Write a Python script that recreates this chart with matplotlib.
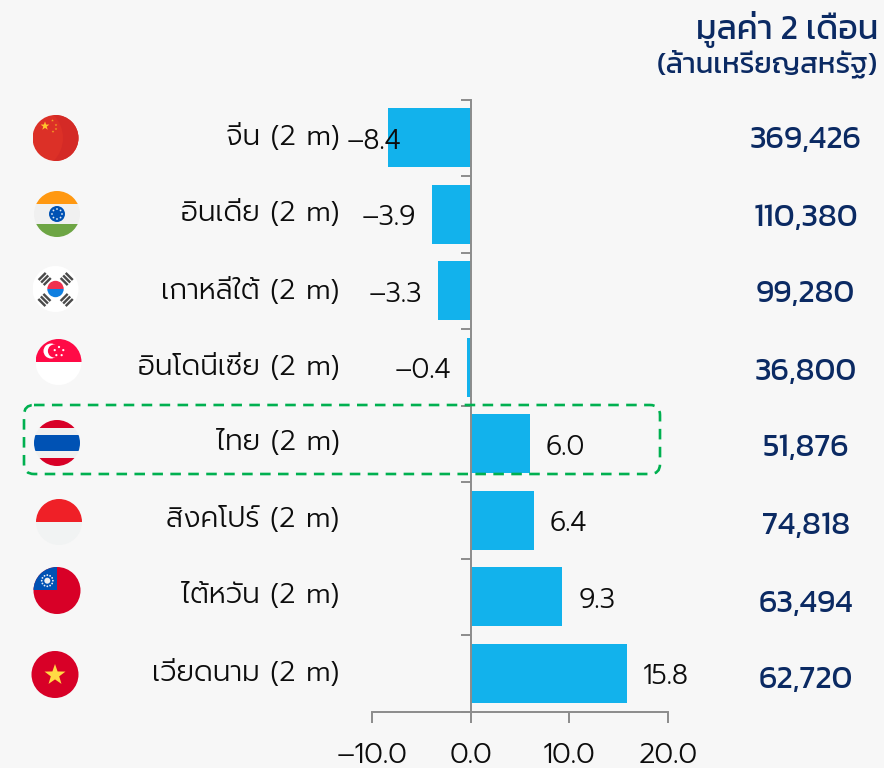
import numpy as np
import matplotlib
matplotlib.use('Agg')
import matplotlib.pyplot as plt
from matplotlib.patches import Circle, Rectangle, FancyBboxPatch, Polygon, Wedge

countries = ['จีน (2 m)', 'อินเดีย (2 m)', 'เกาหลีใต้ (2 m)', 'อินโดนีเซีย (2 m)',
             'ไทย (2 m)', 'สิงคโปร์ (2 m)', 'ไต้หวัน (2 m)', 'เวียดนาม (2 m)']
changes = [-8.4, -3.9, -3.3, -0.4, 6.0, 6.4, 9.3, 15.8]
values = ['369,426', '110,380', '99,280', '36,800', '51,876', '74,818', '63,494', '62,720']
xticks = [-10, 0, 10, 20]
xticklabels = ['\u201310.0', '0.0', '10.0', '20.0']

plt.rcParams['font.family'] = ['Prompt', 'Kanit', 'DejaVu Sans']
HEAD = ['Kanit', 'Prompt', 'DejaVu Sans']

W, H = 884, 768
BG = '#f7f7f7'
NAVY = '#0b2a63'
INK = '#0d0d0d'
GREY = '#8c8c8c'
fig = plt.figure(figsize=(W / 100, H / 100), dpi=100, facecolor=BG)

# main bar axes, pixel box
left, right, top, bottom = 372, 668, 99.5, 711.5
ax = fig.add_axes([left / W, 1 - bottom / H, (right - left) / W, (bottom - top) / H])
ax.patch.set_alpha(0)
pos = np.arange(len(changes))
ax.barh(pos, changes, height=0.77, color='#12b2ec', zorder=2)
ax.set_xlim(-10, 20)
ax.set_ylim(len(changes) - 0.5, -0.5)
for s in ['top', 'right']:
  ax.spines[s].set_visible(False)
ax.spines['left'].set_position(('data', 0))
for s in ['left', 'bottom']:
  ax.spines[s].set_color(GREY)
  ax.spines[s].set_linewidth(1.4)
  ax.spines[s].set_zorder(3)
ax.set_yticks(np.arange(len(changes) + 1) - 0.5)
ax.set_yticklabels([])
ax.tick_params(axis='y', length=7.5, width=1.4, color=GREY)
ax.set_xticks(xticks)
ax.set_xticklabels(xticklabels, fontsize=20.5, color=INK, weight=300)
ax.tick_params(axis='x', length=8, width=1.4, color=GREY, pad=14)

for i, v in enumerate(changes):
  txt = ('\u2013%.1f' % abs(v)) if v < 0 else '%.1f' % v
  if v < 0:
    ax.annotate(txt, (v, i), xytext=(-11.5 if v > -8 else 10, -2.5), textcoords='offset points',
                ha='right', va='center', fontsize=19.5, color=INK, weight=300, zorder=5)
  else:
    ax.annotate(txt, (v, i), xytext=(11.5, -2.5), textcoords='offset points',
                ha='left', va='center', fontsize=19.5, color=INK, weight=300, zorder=5)

# overlay in picture pixels for labels, flags and the highlight box
ov = fig.add_axes([0, 0, 1, 1])
ov.set_xlim(0, W)
ov.set_ylim(H, 0)
ov.axis('off')
ov.patch.set_alpha(0)

ov.text(878, 29, 'มูลค่า 2 เดือน', ha='right', va='center', fontsize=24.5, color=NAVY, family=HEAD)
ov.text(878, 64, '(ล้านเหรียญสหรัฐ)', ha='right', va='center', fontsize=21, color=NAVY, family=HEAD)

labelY = [137.5, 213.5, 290.5, 366.5, 442.5, 519.5, 595.5, 672.5]
valueX = [806, 806, 805.5, 806, 805.5, 806, 806, 806]
valueY = [141, 218, 295, 372, 449, 527, 604, 681]
for i in range(len(countries)):
  ov.text(339.5, labelY[i], countries[i], ha='right', va='center', fontsize=20.3, color=INK, weight=300)
  ov.text(valueX[i], valueY[i], values[i], ha='center', va='center', fontsize=23, color=NAVY, family=HEAD)

ov.add_patch(FancyBboxPatch((24, 405), 636, 69, boxstyle='round,pad=0,rounding_size=10',
                            fill=False, ec='#00b050', lw=1.9, ls=(0, (4, 2.8))))


def flag(cx, cy, r, parts):
  # parts get clipped to the round flag
  c = Circle((cx, cy), r, transform=ov.transData, fc='none', ec='none')
  ov.add_patch(c)
  for p in parts:
    p.set_linewidth(0)
    ov.add_patch(p)
    p.set_clip_path(c)


def band(cx, r, y0, y1, color):
  return Rectangle((cx - r, y0), 2 * r, y1 - y0, fc=color)


def star(cx, cy, r, color):
  a = np.deg2rad(-90 + 36 * np.arange(10))
  rr = np.where(np.arange(10) % 2 == 0, r, r * 0.4)
  return Polygon(np.c_[cx + rr * np.cos(a), cy + rr * np.sin(a)], fc=color)


def dots(cx, cy, r, n, size, color):
  a = 2 * np.pi * np.arange(n) / n - np.pi / 2
  return [Circle((cx + r * np.cos(t), cy + r * np.sin(t)), size, fc=color) for t in a]


def trigram(cx, cy, angle, color):
  # three short bars across the radial direction
  t = np.deg2rad(angle)
  out = []
  for off in [-3.6, 0, 3.6]:
    px, py = cx + off * np.cos(t), cy + off * np.sin(t)
    out.append(Rectangle((px - 1.2, py - 5), 2.4, 10, angle=angle, rotation_point='center', fc=color))
  return out


# china
flag(55.5, 138, 23, [band(55.5, 23, 115, 161, '#dc3027'),
                     Wedge((30, 138), 60, -90, 90, width=27, fc='#d42a26'),
                     star(45, 126, 4.6, '#ffc62d'), star(52.5, 120.5, 1.4, '#f5a623'),
                     star(56, 125, 1.4, '#f5a623'), star(56, 129, 1.4, '#f5a623'),
                     star(53, 131.5, 1.4, '#f5a623')])
# india
flag(57, 214, 23, [band(57, 23, 191, 204, '#ff9811'), band(57, 23, 204, 223.5, '#f0f0f0'),
                   band(57, 23, 223.5, 237, '#6da544'), Circle((57, 214), 8, fc='#0052b4')] +
     dots(57, 214, 5, 8, 0.9, '#dfe9f5'))
# korea
flag(55.5, 289, 23, [band(55.5, 23, 266, 312, '#ffffff')] +
     trigram(44.7, 279, 45, '#4a4a4a') + trigram(66.7, 279, -45, '#4a4a4a') +
     trigram(44.4, 300, -45, '#4a4a4a') + trigram(66.7, 300, 45, '#4a4a4a') +
     [Wedge((55.5, 289), 8.2, 0, 180, fc='#0f7fe0'), Wedge((55.5, 289), 8.2, 180, 360, fc='#f0304f')])
# fourth row flag
flag(58.5, 362, 23, [band(58.5, 23, 339, 362, '#ff0a46'), band(58.5, 23, 362, 385, '#ffffff'),
                     Circle((51, 351), 7.5, fc='#ffffff'), Circle((54.5, 351), 6.6, fc='#ff0a46')] +
     dots(59, 351.5, 4.5, 5, 1.1, '#ffffff'))
# thailand
flag(57, 443, 23, [band(57, 23, 420, 428, '#d80027'), band(57, 23, 428, 435, '#f0f0f0'),
                   band(57, 23, 435, 451, '#0052b4'), band(57, 23, 451, 458, '#f0f0f0'),
                   band(57, 23, 458, 466, '#d80027')])
# sixth row flag
flag(59, 522, 23, [band(59, 23, 499, 521.7, '#ef2027'), band(59, 23, 521.7, 545, '#f1f3f3')])
# taiwan
flag(57, 590.5, 23.5, [band(57, 24, 566, 615, '#d80027'), Rectangle((33, 566), 24, 24, fc='#0052b4')] +
     dots(47.3, 580.7, 5.6, 12, 0.9, '#e8eef7') +
     [Circle((47.3, 580.7), 3, fc='#f0f0f0')])
# vietnam
flag(55, 674.5, 23.5, [band(55, 24, 650, 699, '#d80027'), star(55, 675, 11, '#ffda44')])

plt.savefig('out.png', dpi=100, facecolor=BG)
